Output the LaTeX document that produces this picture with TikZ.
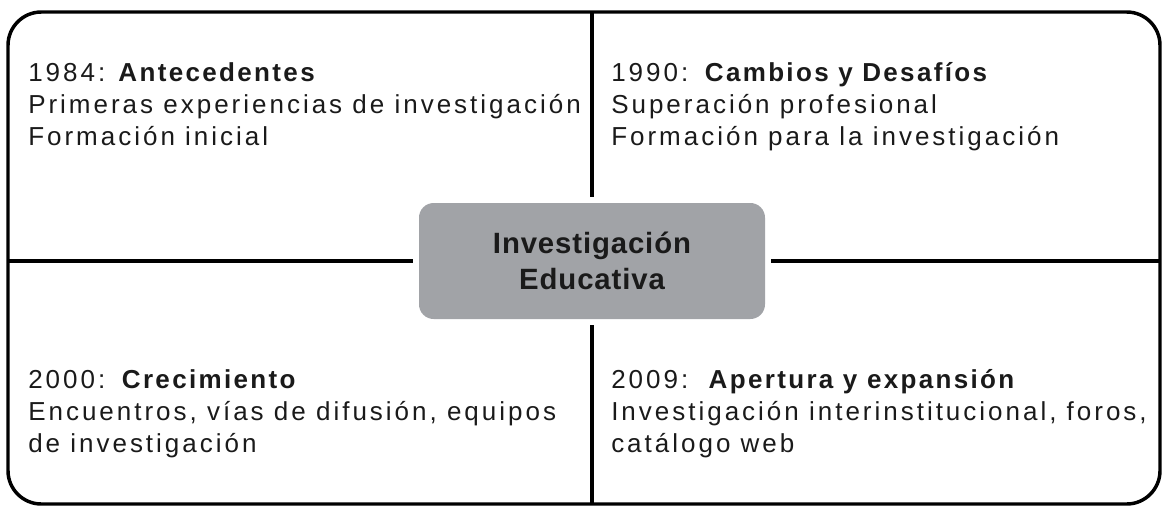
\documentclass[tikz,border=0pt]{standalone}
\usepackage{fontspec}
\newfontfamily\lbl{Liberation Sans}[LetterSpace=11.5, BoldFeatures={LetterSpace=9}]
\newfontfamily\ctr{Liberation Sans}[LetterSpace=3]
\definecolor{boxgray}{HTML}{A1A3A7}
\definecolor{ink}{HTML}{1A1A1A}
\begin{document}
\begin{tikzpicture}[x=0.75pt,y=-0.75pt,
  txt/.style={anchor=base west, inner sep=0pt, text=ink, font=\lbl\fontsize{19.5}{24}\selectfont},
  frame/.style={draw=black, line width=2.6pt, rounded corners=25pt},
  divider/.style={draw=black, line width=3pt},
  hub/.style={fill=boxgray, rounded corners=11pt, minimum width=346*0.75pt, minimum height=116*0.75pt, inner sep=0pt, align=center, text=ink, font=\ctr\bfseries\fontsize{22}{27}\selectfont}]
\useasboundingbox (0,0) rectangle (1167,508);
\draw[frame] (8,12) rectangle (1160,504);
\coordinate (ftop) at (592,12);
\coordinate (fbot) at (592,504);
\coordinate (fleft) at (8,261);
\coordinate (fright) at (1160,261);
\node[hub] (c) at (592,261) {Investigación\\Educativa};
\draw[divider] (ftop) -- ([yshift=6*0.75pt]c.north);
\draw[divider] ([yshift=-6*0.75pt]c.south) -- (fbot);
\draw[divider] (fleft) -- ([xshift=-6*0.75pt]c.west);
\draw[divider] ([xshift=6*0.75pt]c.east) -- (fright);
% top left
\node[txt] (a1) at (28,81) {1984:\ \textbf{Antecedentes}};
\node[txt] (a2) at (28,113.5) {Primeras experiencias de investigación};
\node[txt] (a3) at (28,145.5) {Formación inicial};
% top right
\node[txt] (b1) at (611,81) {1990: \textbf{Cambios y Desafíos}};
\node[txt] (b2) at (611,113.5) {Superación profesional};
\node[txt] (b3) at (611,145.5) {Formación para la investigación};
% bottom left
\node[txt] (d1) at (28,388) {2000: \textbf{Crecimiento}};
\node[txt] (d2) at (28,420) {Encuentros, vías de difusión, equipos};
\node[txt] (d3) at (28,452) {de investigación};
% bottom right
\node[txt] (e1) at (611,388) {2009:\ \ \textbf{Apertura y expansión}};
\node[txt] (e2) at (611,420) {Investigación interinstitucional, foros,};
\node[txt] (e3) at (611,452) {catálogo web};
\end{tikzpicture}
\end{document}
